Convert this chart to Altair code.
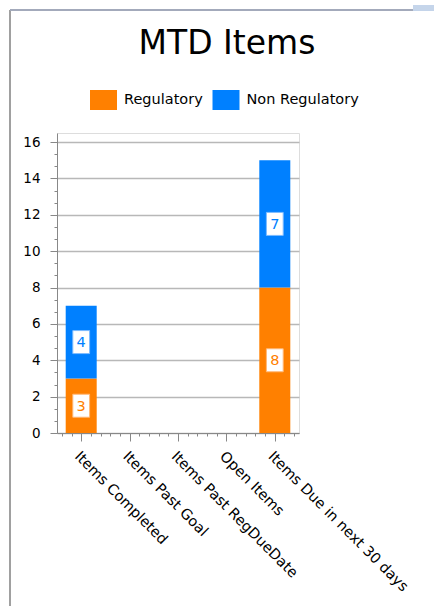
import json
import altair as alt
import pandas as pd

# ---- data ----
categories = ["Items Completed", "Items Past Goal", "Items Past RegDueDate",
              "Open Items", "Items Due in next 30 days"]
regulatory = [3, 0, 0, 0, 8]
non_regulatory = [4, 0, 0, 0, 7]
series_names = ["Regulatory", "Non Regulatory"]
series_colors = ["#FF8000", "#0080FF"]
box_strokes = ["#FFB877", "#7DBBFF"]
y_major = [0, 2, 4, 6, 8, 10, 12, 14, 16]

rows = []
for i, c in enumerate(categories):
    rows.append({"idx": i + 1, "cat": c, "series": series_names[0], "order": 0, "value": regulatory[i]})
    rows.append({"idx": i + 1, "cat": c, "series": series_names[1], "order": 1, "value": non_regulatory[i]})
df = pd.DataFrame(rows)

x_minor = [round(0.6 + 0.2 * k, 2) for k in range(25) if abs((0.6 + 0.2 * k) - round(0.6 + 0.2 * k)) > 1e-6]
y_minor = [round(k * 2 / 3, 4) for k in range(25) if k % 3 != 0 and k * 2 / 3 <= 16.5]

FONT = "DejaVu Sans"
label_expr = json.dumps(categories) + "[datum.value - 1]"

xs = alt.Scale(domain=[0.5, 5.5], nice=False, zero=False, padding=0)
ys = alt.Scale(domain=[0, 16.5], nice=False, padding=0)
color_scale = alt.Scale(domain=series_names, range=series_colors)

base = alt.Chart(df)

bars = base.mark_bar(width=31).encode(
    x=alt.X("idx:Q", scale=xs, axis=alt.Axis(
        values=[1, 2, 3, 4, 5], labelExpr=label_expr, labelAngle=45,
        labelAlign="left", labelBaseline="top", tickSize=8, tickColor="#888888",
        domainColor="#888888", grid=False, title=None, labelFont=FONT,
        labelFontSize=14.5, labelColor="#000000", labelPadding=8,
        labelOverlap=False, labelLimit=400, labelBound=False, labelFlush=False)),
    y=alt.Y("value:Q", stack="zero", scale=ys, axis=alt.Axis(
        values=y_major, tickSize=7, tickColor="#888888", domainColor="#888888",
        grid=True, gridColor="#B8B8B8", gridWidth=1.5, title=None, labelFont=FONT,
        labelFontSize=13.5, labelColor="#000000", labelPadding=10)),
    color=alt.Color("series:N", scale=color_scale, sort=series_names, legend=alt.Legend(
        orient="none", legendX=36.5, legendY=-43, direction="horizontal", title=None,
        symbolType="M-1.35,-1H1.35V1H-1.35Z", symbolSize=400, symbolStrokeWidth=0,
        symbolOpacity=1, labelFont=FONT, labelFontSize=14.5, labelColor="#000000",
        labelOffset=10.5, columnPadding=8.5)),
    order=alt.Order("order:Q"),
)

labeled = base.transform_filter("datum.value > 0").transform_stack(
    stack="value", groupby=["idx"], as_=["v0", "v1"], sort=[alt.SortField("order")]
).transform_calculate(mid="(datum.v0 + datum.v1) / 2")

boxes = labeled.mark_point(
    shape="M-0.73,-1H0.73V1H-0.73Z", size=529, filled=True, fill="white",
    strokeWidth=1, opacity=1,
).encode(
    x=alt.X("idx:Q", scale=xs, axis=alt.Axis(
        values=x_minor, tickSize=3, tickColor="#888888", labels=False, domain=False,
        grid=False, title=None, orient="bottom")),
    y=alt.Y("mid:Q", scale=ys, axis=alt.Axis(
        values=y_minor, tickSize=3, tickColor="#888888", labels=False, domain=False,
        grid=False, title=None, orient="left")),
    stroke=alt.Stroke("series:N", scale=alt.Scale(domain=series_names, range=box_strokes), legend=None),
)

texts = labeled.mark_text(font=FONT, fontSize=14.5, baseline="middle", align="center", dy=1).encode(
    x=alt.X("idx:Q", scale=xs, axis=None),
    y=alt.Y("mid:Q", scale=ys, axis=None),
    text=alt.Text("value:Q"),
    color=alt.Color("series:N", scale=color_scale, legend=None),
)

frame_left = alt.Chart(df).mark_rule(color="#A0A0A0", strokeWidth=2).encode(
    x=alt.value(-47), y=alt.value(-123), y2=alt.value(473))
frame_top = alt.Chart(df).mark_rule(color="#A3AABB", strokeWidth=2).encode(
    x=alt.value(-47), x2=alt.value(377), y=alt.value(-123))
frame_corner = alt.Chart(df).mark_rule(color="#C5D5EA", strokeWidth=5).encode(
    x=alt.value(356), x2=alt.value(377), y=alt.value(-125))

chart = alt.layer(bars, boxes, texts, frame_left, frame_top, frame_corner).resolve_axis(
    x="independent", y="independent"
).resolve_scale(color="shared").properties(
    width=242, height=300,
    title=alt.TitleParams("MTD Items", font=FONT, fontSize=33, fontWeight="normal",
                          color="#000000", anchor="middle", frame="group", dx=49,
                          offset=0, dy=55),
    autosize=alt.AutoSizeParams(type="none"),
    padding={"left": 57, "top": 133, "right": 135, "bottom": 173},
).configure_view(fill="#E6E6E6", stroke="#A0A0A0", strokeWidth=1.5
).configure(background="white")

chart.save("out.html", embed_options={"renderer": "svg", "actions": False})
